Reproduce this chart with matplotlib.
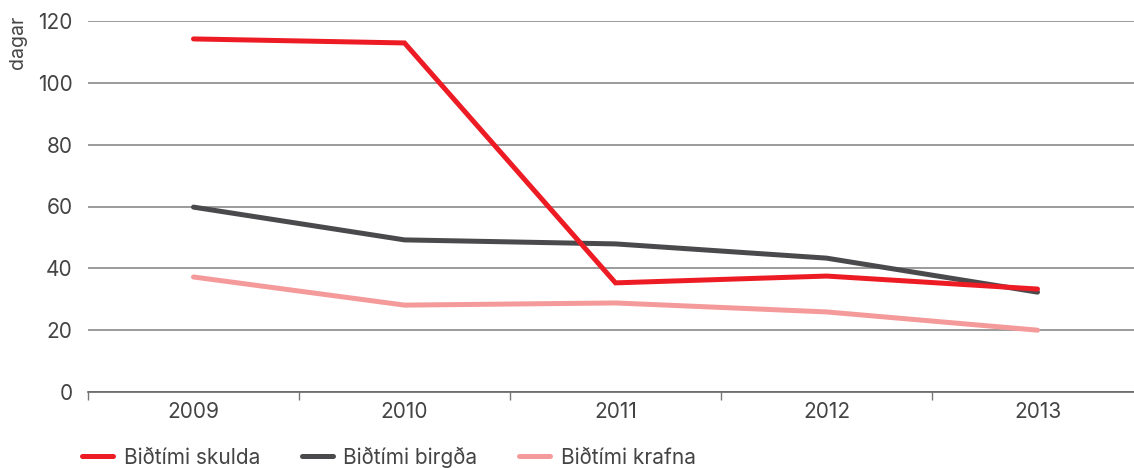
import numpy as np
import matplotlib.pyplot as plt
from matplotlib.ticker import FixedLocator, NullFormatter

plt.rcParams['font.family'] = ['Inter', 'DejaVu Sans']

# Gögn (dagar)
years = ["2009", "2010", "2011", "2012", "2013"]
skulda = [114.2, 112.9, 35.3, 37.5, 33.3]
birgda = [59.8, 49.2, 47.9, 43.3, 32.3]
krafna = [37.2, 28.1, 28.8, 25.9, 20.0]

labels = ["Biðtími skulda", "Biðtími birgða", "Biðtími krafna"]
colors = ["#ed1c24", "#4a4a4c", "#f59a9a"]

fig = plt.figure(figsize=(11.34, 4.68), dpi=100)
ax = fig.add_axes([88/1134, 76/468, 1 - 88/1134, 371/468])

x = np.arange(len(years))
# teikna í öfugri röð svo rauða línan sé efst
for vals, lab, col in reversed(list(zip([skulda, birgda, krafna], labels, colors))):
    ax.plot(x, vals, color=col, lw=3.6, solid_capstyle="round",
            solid_joinstyle="miter", label=lab)

ax.set_ylim(0, 120)
ax.set_xlim(-0.5, -0.5 + (1134 - 88) / 211)
ax.set_yticks(range(0, 121, 20))
ax.grid(axis="y", color="#8a8a8a", lw=1.2)
ax.set_axisbelow(True)

ax.set_xticks(x)
ax.set_xticklabels(years)
ax.xaxis.set_minor_locator(FixedLocator(np.arange(-0.5, 4.6, 1)))
ax.xaxis.set_minor_formatter(NullFormatter())
ax.tick_params(axis="x", which="major", length=0, pad=7, labelsize=15, labelcolor="#444444")
ax.tick_params(axis="x", which="minor", length=6, width=1, color="#777777")
ax.tick_params(axis="y", length=0, pad=11, labelsize=15, labelcolor="#444444")

for s in ["top", "right", "left"]:
    ax.spines[s].set_visible(False)
ax.spines["bottom"].set_color("#666666")
ax.spines["bottom"].set_linewidth(1.2)

fig.text(18/1134, 1 - 42/468, "dagar", rotation=90, ha="center", va="center",
         fontsize=14, color="#444444")

handles, labs = ax.get_legend_handles_labels()
handles, labs = handles[::-1], labs[::-1]
leg = fig.legend(handles, labs, loc="center left", bbox_to_anchor=(82/1134, 1 - 457/468),
                 ncol=3, frameon=False, fontsize=15, handlelength=1.5,
                 columnspacing=2.0, handletextpad=0.5, labelcolor="#444444",
                 borderpad=0, borderaxespad=0)

fig.savefig("out.png", dpi=100)
